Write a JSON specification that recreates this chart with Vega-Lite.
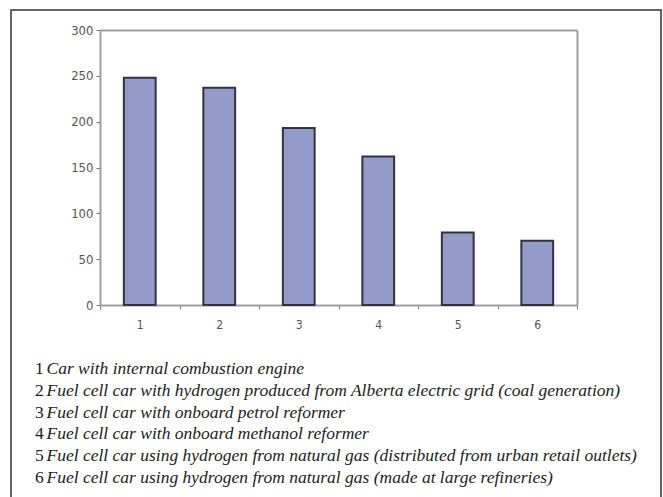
{
  "$schema": "https://vega.github.io/schema/vega-lite/v6.json",
  "width": 650,
  "height": 490,
  "autosize": "none",
  "padding": {"left": 11, "top": 10, "right": 2, "bottom": 0},
  "background": "white",
  "config": {
    "view": {"stroke": "#333333", "strokeWidth": 1.5}
  },
  "data": {
    "values": [
      {"car": "1", "value": 248, "desc": "Car with internal combustion engine"},
      {"car": "2", "value": 237, "desc": "Fuel cell car with hydrogen produced from Alberta electric grid (coal generation)"},
      {"car": "3", "value": 193, "desc": "Fuel cell car with onboard petrol reformer"},
      {"car": "4", "value": 162, "desc": "Fuel cell car with onboard methanol reformer"},
      {"car": "5", "value": 79, "desc": "Fuel cell car using hydrogen from natural gas (distributed from urban retail outlets)"},
      {"car": "6", "value": 70, "desc": "Fuel cell car using hydrogen from natural gas (made at large refineries)"}
    ]
  },
  "resolve": {
    "scale": {"y": "independent"},
    "axis": {"x": "independent", "y": "independent"}
  },
  "layer": [
    {
      "mark": {"type": "bar", "width": {"band": 0.4}, "fill": "#939bcb", "stroke": "#33333d", "strokeWidth": 2},
      "encoding": {
        "x": {
          "field": "car", "type": "ordinal",
          "scale": {"range": [89, 566], "paddingInner": 0, "paddingOuter": 0},
          "axis": {
            "orient": "bottom", "offset": -195, "title": null, "labelAngle": 0,
            "domainColor": "#a0a0a0", "domainWidth": 2,
            "tickBand": "extent", "tickColor": "#777777", "tickSize": 4, "tickWidth": 1,
            "labelFont": "DejaVu Sans Condensed, Liberation Sans Narrow, sans-serif",
            "labelFontSize": 12, "labelColor": "#555555", "labelPadding": 10
          }
        },
        "y": {
          "field": "value", "type": "quantitative",
          "scale": {"domain": [0, 300], "range": [295, 20], "nice": false},
          "axis": {
            "orient": "left", "offset": -89, "title": null, "grid": false,
            "values": [0, 50, 100, 150, 200, 250, 300],
            "domainColor": "#a0a0a0", "domainWidth": 2,
            "tickColor": "#777777", "tickSize": 4, "tickWidth": 1,
            "labelFont": "DejaVu Sans Condensed, Liberation Sans Narrow, sans-serif",
            "labelFontSize": 13, "labelColor": "#555555", "labelPadding": 3
          }
        }
      }
    },
    {
      "mark": {"type": "bar", "width": {"band": 0.4}, "opacity": 0},
      "encoding": {
        "x": {
          "field": "car", "type": "ordinal",
          "axis": {
            "orient": "top", "offset": -20, "title": null, "labels": false, "ticks": false,
            "domainColor": "#a0a0a0", "domainWidth": 2
          }
        },
        "y": {
          "field": "value", "type": "quantitative",
          "scale": {"domain": [0, 300], "range": [295, 20], "nice": false},
          "axis": {
            "orient": "right", "offset": -84, "title": null, "labels": false, "ticks": false, "grid": false,
            "domainColor": "#a0a0a0", "domainWidth": 2
          }
        }
      }
    },
    {
      "mark": {"type": "text", "align": "left", "baseline": "middle", "font": "Liberation Serif", "fontSize": 17.5, "color": "#222222"},
      "encoding": {
        "x": {"value": 24},
        "y": {"field": "car", "type": "ordinal", "scale": {"type": "point", "range": [359, 468], "padding": 0}, "axis": null},
        "text": {"field": "car"}
      }
    },
    {
      "mark": {"type": "text", "align": "left", "baseline": "middle", "font": "Liberation Serif", "fontStyle": "italic", "fontSize": 17.5, "color": "#222222"},
      "encoding": {
        "x": {"value": 35.5},
        "y": {"field": "car", "type": "ordinal", "scale": {"type": "point", "range": [359, 468], "padding": 0}, "axis": null},
        "text": {"field": "desc"}
      }
    }
  ]
}
